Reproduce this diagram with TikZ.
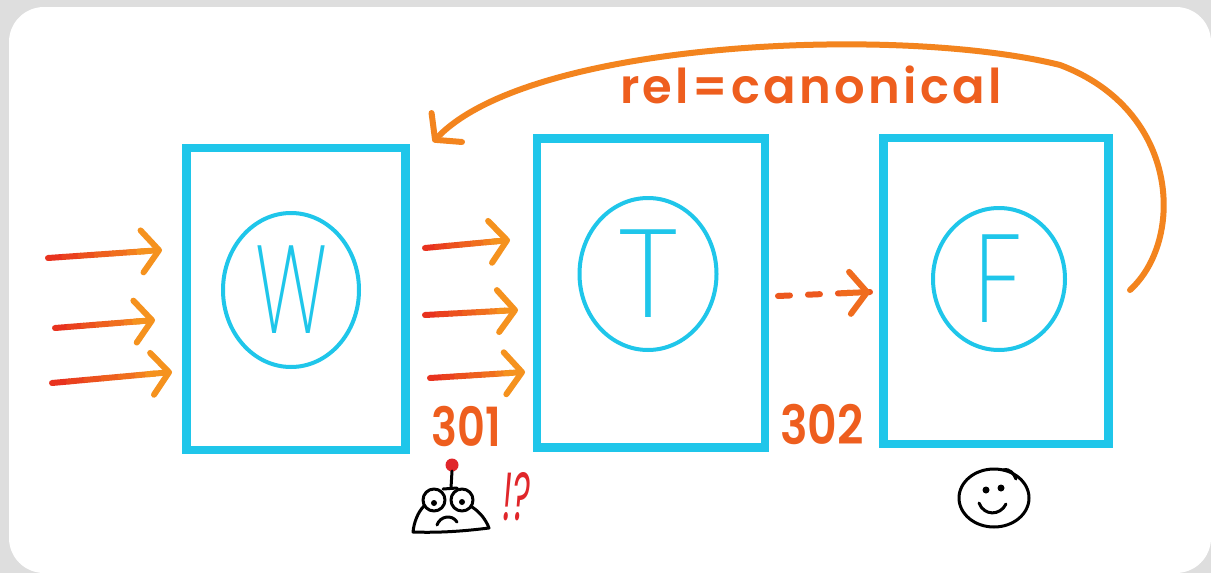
\documentclass[tikz,border=0pt]{standalone}
\usepackage{fontspec}
\newfontfamily\penfont{Poppins SemiBold}
\newfontfamily\penplain{Poppins}
\newfontfamily\penthin{Poppins ExtraLight}
\usetikzlibrary{arrows.meta,calc,shapes.geometric}
\definecolor{penblue}{HTML}{1FC6EA}
\definecolor{penred}{HTML}{E8321E}
\definecolor{penorange}{HTML}{F5921E}
\definecolor{inkorange}{HTML}{EE5E1E}
\definecolor{inkred}{HTML}{E0262A}
\definecolor{framegray}{HTML}{DEDEDE}

\newcommand{\penarrow}[2]{%
  \foreach \k [evaluate=\k as \pct using int(100-16*\k), evaluate=\k as \nxt using (\k+1)/7] in {0,...,5}
    \draw[pen,penred!\pct!penorange] ($(#1)!\k/7!(#2)$) -- ($(#1)!\nxt!(#2)$);
  \draw[pen,tip,penorange] ($(#1)!0.8!(#2)$) -- (#2);}

\begin{document}
\begin{tikzpicture}[x=1pt,y=1pt,
    page/.style={draw=penblue,line width=8.5pt,rectangle},
    disc/.style={draw=penblue,line width=4pt,ellipse,inner sep=0pt,text=penblue,
      font=\penthin\fontsize{125}{125}\selectfont},
    ink/.style={inner sep=0pt,text=inkorange,font=\penfont\fontsize{54}{54}\selectfont},
    pen/.style={line width=6pt,line cap=round,line join=round},
    tip/.style={-{Straight Barb[length=17pt,width=42pt,round]}},
    doodle/.style={line width=3pt,line cap=round,line join=round}]
    \useasboundingbox (0,0) rectangle (1211,-573);
    \fill[framegray] (0,0) rectangle (1211,-573);
    \fill[white,rounded corners=35pt] (9,-7) rectangle (1211,-573);

    \node[page,minimum width=219,minimum height=302] (boxW) at (296,-299) {};
    \node[page,minimum width=228,minimum height=309] (boxT) at (651,-293) {};
    \node[page,minimum width=225,minimum height=306] (boxF) at (996,-291) {};
    \node[disc,minimum width=136,minimum height=154] (circW) at (291,-290) {\scalebox{0.62}[1]{W}};
    \node[disc,minimum width=137,minimum height=152] (circT) at (648,-274) {T};
    \node[disc,minimum width=132,minimum height=142] (circF) at (999,-279) {\scalebox{0.8}[1]{F}};

    \coordinate (inA) at (48,-258);
    \coordinate (inB) at (55,-328);
    \coordinate (inC) at (52,-383);
    \coordinate (hitA) at (162,-250);
    \coordinate (hitB) at (155,-320);
    \coordinate (hitC) at (172,-372);
    \penarrow{inA}{hitA}
    \penarrow{inB}{hitB}
    \penarrow{inC}{hitC}

    \coordinate (movA) at (425,-248);
    \coordinate (movB) at (425,-315);
    \coordinate (movC) at (430,-378);
    \coordinate (toA) at (510,-240);
    \coordinate (toB) at (518,-310);
    \coordinate (toC) at (525,-372);
    \penarrow{movA}{toA}
    \penarrow{movB}{toB}
    \penarrow{movC}{toC}

    \coordinate (hopA) at (778,-296);
    \coordinate (hopB) at (870,-292);
    \draw[pen,penred!60!penorange,dash pattern=on 12pt off 18pt] (hopA) -- (hopB);
    \draw[pen,tip,penred!40!penorange] ($(hopA)!0.7!(hopB)$) -- (hopB);

    \node[ink] (lab301) at (466,-426) {\scalebox{0.8}[1]{301}};
    \node[ink] (lab302) at (822,-424) {\scalebox{0.85}[1]{302}};

    \coordinate (canonStart) at (1130,-290);
    \coordinate (canonEnd) at (433,-142);
    \draw[pen,tip,penorange!85!penred] (canonStart) .. controls (1185,-240) and (1180,-110) .. (1060,-65)
      .. controls (900,-25) and (530,-40) .. (canonEnd);
    \node[ink,font=\penfont\addfontfeature{LetterSpace=7}\fontsize{48}{48}\selectfont] (rel) at (811,-85) {rel=canonical};

    \fill[inkred] (452,-465) circle (6.5);
    \draw[doodle] (452,-471) -- (451,-488);
    \draw[doodle] (443,-489) -- (457,-488);
    \draw[doodle] (434,-500) circle (11);
    \draw[doodle] (462,-500) circle (11);
    \fill (434,-503) circle (3);
    \fill (462,-502) circle (3);
    \draw[doodle] (424,-506) .. controls (418,-512) and (414,-522) .. (413,-532)
      .. controls (440,-533) and (465,-531) .. (489,-528)
      .. controls (486,-520) and (480,-512) .. (472,-507);
    \draw[doodle] (437,-525) .. controls (440,-516) and (452,-514) .. (457,-522);
    \node[inner sep=0pt,text=inkred,font=\penplain\fontsize{68}{68}\selectfont] (huh) at (516,-497)
      {\scalebox{0.5}[1]{\textit{!?}}};

    \draw[doodle] (994,-498) ellipse (35 and 29);
    \draw[doodle] (1003,-470) .. controls (1010,-468) and (1014,-474) .. (1016,-479);
    \fill (986,-490) circle (3.5);
    \fill (1001,-488) circle (3.5);
    \draw[doodle] (979,-503) .. controls (984,-516) and (1000,-516) .. (1006,-504);
\end{tikzpicture}
\end{document}
